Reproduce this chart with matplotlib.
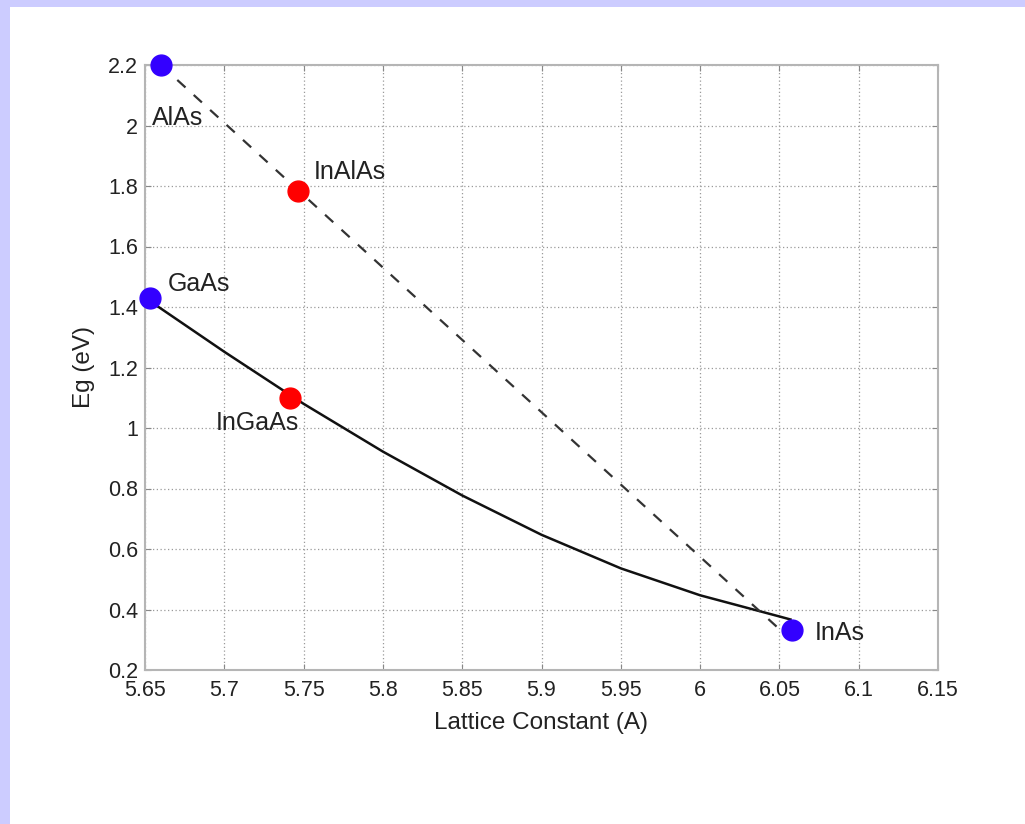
import matplotlib
matplotlib.use("Agg")
import matplotlib.pyplot as plt
from matplotlib.patches import Rectangle

plt.rcParams['font.family'] = ['Liberation Sans', 'DejaVu Sans']

# binary end points (lattice constant in A, band gap in eV)
bin_names = ['AlAs', 'GaAs', 'InAs']
bin_a = [5.66, 5.653, 6.058]
bin_eg = [2.2, 1.43, 0.332]

# ternary alloys lattice matched to InP
tern_names = ['InAlAs', 'InGaAs']
tern_a = [5.7465, 5.7415]
tern_eg = [1.785, 1.10]

# label centres
lab_names = ['AlAs', 'InAlAs', 'GaAs', 'InGaAs', 'InAs']
lab_a = [5.6705, 5.7793, 5.684, 5.7209, 6.0882]
lab_eg = [2.025, 1.846, 1.476, 1.017, 0.322]

# InGaAs curve
curve_a = [5.653, 5.70, 5.75, 5.80, 5.85, 5.90, 5.95, 6.00, 6.05, 6.057]
curve_eg = [1.42, 1.252, 1.08, 0.922, 0.777, 0.647, 0.536, 0.447, 0.377, 0.367]

# InAlAs line
dash_a = [5.66, 6.05]
dash_eg = [2.2, 0.335]

xticks = [5.65, 5.7, 5.75, 5.8, 5.85, 5.9, 5.95, 6, 6.05, 6.1, 6.15]
xticklabels = ['5.65', '5.7', '5.75', '5.8', '5.85', '5.9', '5.95', '6', '6.05', '6.1', '6.15']
yticks = [0.2, 0.4, 0.6, 0.8, 1, 1.2, 1.4, 1.6, 1.8, 2, 2.2]
yticklabels = ['0.2', '0.4', '0.6', '0.8', '1', '1.2', '1.4', '1.6', '1.8', '2', '2.2']

fig = plt.figure(figsize=(10.25, 8.24), dpi=100)
fig.patch.set_facecolor('#ccccff')
fig.patches.append(Rectangle((10/1025, 0), 1, 1 - 7/824, transform=fig.transFigure,
                             facecolor='white', edgecolor='none', zorder=-5))

ax = fig.add_axes([145/1025, 154/824, 793/1025, 605/824])
ax.set_zorder(2)
ax.set_xlim(5.65, 6.15)
ax.set_ylim(0.2, 2.2)
ax.set_xticks(xticks)
ax.set_xticklabels(xticklabels)
ax.set_yticks(yticks)
ax.set_yticklabels(yticklabels)
ax.grid(True, linestyle=(0, (1, 2)), color='#9a9a9a', linewidth=0.9)
ax.tick_params(direction='in', length=4, width=0.8, color='#888888',
               labelsize=15.5, labelcolor='#222222', pad=5, top=True, right=True)
ax.tick_params(axis='x', pad=7)
for s in ax.spines.values():
    s.set_color('#b5b5b5')
    s.set_linewidth(1.5)

ax.plot(curve_a, curve_eg, color='#111111', lw=1.8, zorder=3)
ax.plot(dash_a, dash_eg, color='#333333', lw=1.6, ls=(0, (5, 5)), zorder=3)

ax.plot(bin_a, bin_eg, 'o', color='#3300ff', ms=15, mec='#3300ff', clip_on=False, zorder=5)
ax.plot(tern_a, tern_eg, 'o', color='#ff0000', ms=15, mec='#ff0000', clip_on=False, zorder=5)

for name, a, eg in zip(lab_names, lab_a, lab_eg):
    ax.text(a, eg, name, fontsize=18, color='#222222', va='center', ha='center', zorder=6)

ax.set_xlabel('Lattice Constant (A)', fontsize=17.5, color='#222222', labelpad=8)
ax.set_ylabel('Eg (eV)', fontsize=17.5, color='#222222', labelpad=9)

fig.savefig('out.png', dpi=100)
